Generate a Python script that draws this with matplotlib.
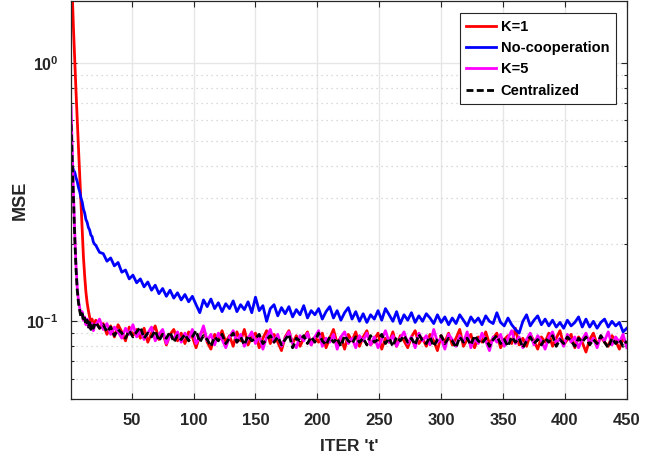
import numpy as np
import matplotlib
matplotlib.use("Agg")
import matplotlib.pyplot as plt
from matplotlib.ticker import LogLocator, NullFormatter

plt.rcParams['font.family'] = ['Liberation Sans', 'DejaVu Sans']
plt.rcParams['font.weight'] = 'bold'
plt.rcParams['mathtext.fontset'] = 'custom'
plt.rcParams['mathtext.rm'] = 'Liberation Sans Narrow:bold'
plt.rcParams['mathtext.bf'] = 'Liberation Sans Narrow:bold'
plt.rcParams['mathtext.default'] = 'bf'

# iterations: every iteration for the start, then every 3rd one
t_early = np.arange(1, 21)
t_late = np.arange(21, 451, 3)

k1_early = [3.2, 1.85, 1.35, 1.02, 0.78, 0.60, 0.47, 0.37, 0.29, 0.225,
            0.178, 0.150, 0.130, 0.118, 0.110, 0.104, 0.099, 0.102, 0.094, 0.098]
k1_late = [
    0.101, 0.094, 0.098, 0.089, 0.096, 0.087, 0.097, 0.091, 0.084, 0.095, 0.088, 0.093,
    0.086, 0.094, 0.083, 0.090, 0.096, 0.085, 0.091, 0.081, 0.089, 0.093, 0.084, 0.090,
    0.082, 0.091, 0.087, 0.079, 0.088, 0.094, 0.083, 0.078, 0.089, 0.085, 0.092, 0.083,
    0.088, 0.080, 0.091, 0.084, 0.093, 0.081, 0.087, 0.090, 0.079, 0.086, 0.092, 0.082,
    0.089, 0.083, 0.077, 0.087, 0.092, 0.082, 0.088, 0.080, 0.086, 0.091, 0.081, 0.087,
    0.083, 0.090, 0.079, 0.086, 0.093, 0.082, 0.087, 0.078, 0.089, 0.084, 0.091, 0.080,
    0.087, 0.092, 0.081, 0.085, 0.090, 0.078, 0.086, 0.083, 0.091, 0.080, 0.088, 0.084,
    0.079, 0.087, 0.092, 0.082, 0.086, 0.080, 0.089, 0.084, 0.077, 0.088, 0.083, 0.090,
    0.081, 0.086, 0.093, 0.080, 0.085, 0.089, 0.079, 0.087, 0.083, 0.091, 0.082, 0.086,
    0.090, 0.079, 0.085, 0.088, 0.082, 0.094, 0.081, 0.086, 0.080, 0.089, 0.084, 0.078,
    0.087, 0.083, 0.090, 0.080, 0.086, 0.092, 0.081, 0.085, 0.089, 0.079, 0.087, 0.083,
    0.076, 0.085, 0.090, 0.081, 0.087, 0.083, 0.080, 0.088, 0.084, 0.078, 0.086, 0.081,
]

noco_early = [0.405, 0.40, 0.385, 0.378, 0.36, 0.348, 0.33, 0.318, 0.30, 0.29,
              0.272, 0.263, 0.248, 0.242, 0.231, 0.226, 0.216, 0.213, 0.203, 0.199]
noco_late = [
    0.197, 0.185, 0.183, 0.171, 0.176, 0.164, 0.169, 0.155, 0.158, 0.146, 0.151, 0.141,
    0.146, 0.136, 0.142, 0.132, 0.138, 0.128, 0.134, 0.125, 0.132, 0.123, 0.129, 0.121,
    0.127, 0.119, 0.125, 0.116, 0.108, 0.121, 0.114, 0.122, 0.112, 0.118, 0.109, 0.117,
    0.112, 0.120, 0.109, 0.116, 0.111, 0.119, 0.108, 0.124, 0.110, 0.115, 0.100, 0.112,
    0.116, 0.105, 0.113, 0.107, 0.114, 0.104, 0.111, 0.106, 0.115, 0.103, 0.110, 0.106,
    0.112, 0.102, 0.109, 0.114, 0.103, 0.110, 0.101, 0.108, 0.113, 0.102, 0.109, 0.100,
    0.107, 0.099, 0.106, 0.102, 0.110, 0.101, 0.112, 0.106, 0.100, 0.109, 0.098, 0.106,
    0.101, 0.108, 0.099, 0.105, 0.100, 0.107, 0.103, 0.098, 0.106, 0.099, 0.104, 0.097,
    0.103, 0.098, 0.106, 0.101, 0.096, 0.104, 0.099, 0.103, 0.097, 0.105, 0.100, 0.098,
    0.108, 0.099, 0.096, 0.103, 0.097, 0.093, 0.090, 0.100, 0.106, 0.096, 0.101, 0.105,
    0.097, 0.102, 0.096, 0.101, 0.095, 0.099, 0.094, 0.101, 0.096, 0.099, 0.104, 0.095,
    0.102, 0.095, 0.100, 0.094, 0.099, 0.102, 0.095, 0.100, 0.096, 0.099, 0.091, 0.094,
]

k5_early = [0.68, 0.46, 0.31, 0.22, 0.165, 0.135, 0.12, 0.113, 0.106, 0.109,
            0.101, 0.104, 0.097, 0.102, 0.095, 0.099, 0.094, 0.098, 0.092, 0.096]
k5_late = [
    0.097, 0.102, 0.093, 0.098, 0.089, 0.095, 0.091, 0.086, 0.094, 0.089, 0.097, 0.087,
    0.092, 0.085, 0.090, 0.095, 0.084, 0.089, 0.093, 0.082, 0.088, 0.086, 0.091, 0.083,
    0.090, 0.085, 0.093, 0.082, 0.087, 0.096, 0.084, 0.089, 0.081, 0.090, 0.085, 0.079,
    0.087, 0.092, 0.083, 0.089, 0.080, 0.086, 0.091, 0.082, 0.088, 0.078, 0.087, 0.093,
    0.083, 0.089, 0.080, 0.086, 0.091, 0.082, 0.079, 0.088, 0.084, 0.090, 0.081, 0.087,
    0.092, 0.080, 0.086, 0.083, 0.089, 0.078, 0.087, 0.091, 0.082, 0.086, 0.079, 0.088,
    0.084, 0.090, 0.081, 0.087, 0.079, 0.085, 0.092, 0.083, 0.088, 0.080, 0.086, 0.091,
    0.082, 0.087, 0.079, 0.090, 0.084, 0.088, 0.081, 0.093, 0.083, 0.086, 0.078, 0.089,
    0.085, 0.080, 0.088, 0.083, 0.091, 0.079, 0.086, 0.082, 0.090, 0.084, 0.077, 0.087,
    0.083, 0.089, 0.080, 0.086, 0.092, 0.082, 0.087, 0.079, 0.085, 0.090, 0.081, 0.088,
    0.084, 0.078, 0.087, 0.091, 0.082, 0.086, 0.080, 0.089, 0.083, 0.087, 0.079, 0.085,
    0.090, 0.082, 0.086, 0.079, 0.088, 0.084, 0.091, 0.081, 0.087, 0.083, 0.089, 0.079,
]

cen_early = [0.58, 0.41, 0.29, 0.21, 0.16, 0.132, 0.118, 0.110, 0.104, 0.107,
             0.100, 0.103, 0.097, 0.101, 0.095, 0.099, 0.093, 0.098, 0.094, 0.097]
cen_late = [
    0.099, 0.094, 0.097, 0.091, 0.095, 0.088, 0.093, 0.090, 0.086, 0.092, 0.087, 0.091,
    0.095, 0.086, 0.090, 0.087, 0.092, 0.084, 0.089, 0.086, 0.091, 0.083, 0.088, 0.085,
    0.089, 0.084, 0.087, 0.092, 0.083, 0.088, 0.085, 0.080, 0.087, 0.084, 0.089, 0.082,
    0.086, 0.090, 0.083, 0.087, 0.081, 0.088, 0.084, 0.086, 0.089, 0.082, 0.085, 0.088,
    0.083, 0.087, 0.081, 0.085, 0.089, 0.079, 0.086, 0.084, 0.088, 0.082, 0.087, 0.083,
    0.090, 0.084, 0.081, 0.087, 0.083, 0.086, 0.080, 0.088, 0.084, 0.082, 0.087, 0.083,
    0.086, 0.081, 0.088, 0.083, 0.085, 0.089, 0.082, 0.086, 0.080, 0.087, 0.084, 0.088,
    0.083, 0.086, 0.081, 0.089, 0.084, 0.082, 0.087, 0.080, 0.085, 0.088, 0.082, 0.086,
    0.084, 0.079, 0.087, 0.083, 0.086, 0.081, 0.088, 0.084, 0.082, 0.086, 0.080, 0.085,
    0.088, 0.082, 0.085, 0.080, 0.087, 0.083, 0.086, 0.079, 0.084, 0.087, 0.082, 0.085,
    0.081, 0.086, 0.083, 0.088, 0.080, 0.085, 0.082, 0.087, 0.084, 0.080, 0.086, 0.083,
    0.087, 0.081, 0.085, 0.082, 0.088, 0.083, 0.079, 0.086, 0.082, 0.085, 0.080, 0.084,
]

x_ticks = [50, 100, 150, 200, 250, 300, 350, 400, 450]

t = np.concatenate([t_early, t_late])

fig = plt.figure(figsize=(6.64, 4.61), dpi=100)
ax = fig.add_axes([0.107, 0.1345, 0.837, 0.863])

ax.semilogy(t, k1_early + k1_late, color='red', lw=2.0, label='K=1')
ax.semilogy(t, noco_early + noco_late, color='blue', lw=2.0, label='No-cooperation')
ax.semilogy(t, k5_early + k5_late, color='magenta', lw=2.0, label='K=5')
ax.semilogy(t, cen_early + cen_late, color='black', lw=2.0,
            ls=(0, (2.5, 1.2)), label='Centralized')

ax.set_xlim(1, 450)
ax.set_ylim(0.05, 1.74)
ax.set_xticks(x_ticks)
ax.yaxis.set_major_locator(LogLocator(base=10))
ax.yaxis.set_minor_locator(LogLocator(base=10, subs=np.arange(2, 10)))
ax.yaxis.set_minor_formatter(NullFormatter())

ax.grid(True, which='major', color='#e6e6e6', lw=1.0, ls='-')
ax.grid(True, which='minor', axis='y', color='#cfcfcf', lw=0.9, ls=(0, (1, 3)))
ax.set_axisbelow(True)

ax.tick_params(which='both', direction='in', top=True, right=True,
               width=0.8, colors='#262626')
ax.tick_params(axis='x', labelsize=12, pad=10)
ax.tick_params(axis='y', labelsize=11.5, pad=9)
ax.tick_params(which='major', length=4)
ax.tick_params(which='minor', length=2.5)
for s in ax.spines.values():
    s.set_color('#262626')
    s.set_linewidth(0.9)

ax.set_xlabel("ITER 't'", fontsize=12.5, fontweight='bold', color='#262626', labelpad=8)
ax.set_ylabel('MSE', fontsize=13, fontweight='bold', color='#262626')
ax.yaxis.set_label_coords(-0.0755, 0.5)

leg = ax.legend(loc='upper right', bbox_to_anchor=(0.9802, 0.9698), borderaxespad=0,
                fontsize=10.5, handlelength=2.0, handletextpad=0.35, labelspacing=0.5,
                borderpad=0.45, fancybox=False, framealpha=1)
leg.get_frame().set_edgecolor('#262626')
leg.get_frame().set_linewidth(0.8)

fig.savefig('out.png', dpi=100)
